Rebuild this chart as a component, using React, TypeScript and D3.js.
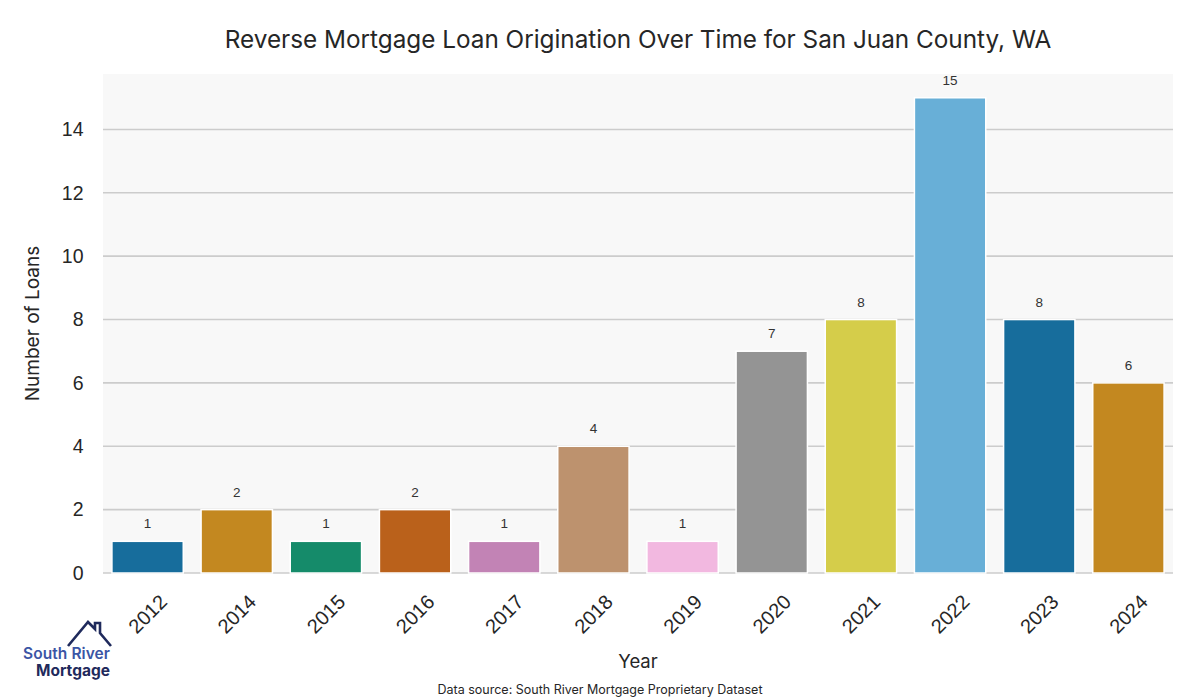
import React from "react";
import * as d3 from "d3";

const years = ["2012", "2014", "2015", "2016", "2017", "2018", "2019", "2020", "2021", "2022", "2023", "2024"];
const loans = [1, 2, 1, 2, 1, 4, 1, 7, 8, 15, 8, 6];
const baseColors = ["#0173B2", "#DE8F05", "#029E73", "#D55E00", "#CC78BC", "#CA9161", "#FBAFE4", "#949494", "#ECE133", "#56B4E9", "#0173B2", "#DE8F05"];
const yTicks = [0, 2, 4, 6, 8, 10, 12, 14];

const W = 1200, H = 700;
const M = { left: 103, right: 1173, top: 74, bottom: 573 };
const uiFont = "Inter, 'Noto Sans', sans-serif";
const tickFont = "'Liberation Sans', Arial, sans-serif";

function desat(c: string) {
  const h = d3.hsl(c);
  h.s *= 0.75;
  return h.formatHex();
}

export default function App() {
  const x = d3.scaleBand<string>().domain(years).range([M.left, M.right]).paddingInner(0.2).paddingOuter(0.1);
  const y = d3.scaleLinear().domain([0, 15.75]).range([M.bottom, M.top]);
  const cx = (M.left + M.right) / 2;
  return (
    <svg width={W} height={H} style={{ position: "absolute", left: 0, top: 0, background: "#fff" }}>
      <rect x={M.left} y={M.top} width={M.right - M.left} height={M.bottom - M.top} fill="#f8f8f8" />
      {yTicks.map((t) => (
        <g key={t}>
          <line x1={M.left} x2={M.right} y1={y(t)} y2={y(t)} stroke="#cccccc" strokeWidth={1.6} />
          <text x={M.left - 19.5} y={y(t)} dy="0.35em" textAnchor="end" fontFamily={tickFont} fontSize={19.5} fill="#262626">{t}</text>
        </g>
      ))}
      {years.map((yr, i) => {
        const bx = x(yr)!;
        const bw = x.bandwidth();
        return (
          <g key={yr}>
            <rect x={bx} y={y(loans[i])} width={bw} height={y(0) - y(loans[i])} fill={desat(baseColors[i])} stroke="#fff" strokeWidth={1.5} />
            <text x={bx + bw / 2} y={y(loans[i]) - 13} textAnchor="middle" fontFamily={tickFont} fontSize={13.5} fill="#333">{loans[i]}</text>
            <text transform={`translate(${bx + bw / 2},${614}) rotate(-45)`} textAnchor="middle" dy="0.35em" fontFamily={tickFont} fontSize={20} fill="#262626">{yr}</text>
          </g>
        );
      })}
      <text x={cx} y={48} textAnchor="middle" fontFamily={uiFont} fontSize={24.3} fill="#262626">Reverse Mortgage Loan Origination Over Time for San Juan County, WA</text>
      <text transform={`translate(39,${(M.top + M.bottom) / 2}) rotate(-90)`} textAnchor="middle" fontFamily={uiFont} fontSize={19} fill="#262626">Number of Loans</text>
      <text x={cx} y={668} textAnchor="middle" fontFamily={uiFont} fontSize={18.5} fill="#262626">Year</text>
      <text x={600} y={694} textAnchor="middle" fontFamily={uiFont} fontSize={12.5} fill="#262626">Data source: South River Mortgage Proprietary Dataset</text>
      <g>
        <path d="M68,646 L88,622 L95,629 L95,623 L100,623 L100,633 L111,646" fill="none" stroke="#1f2a5c" strokeWidth={2.6} strokeLinejoin="miter" />
        <text x={23} y={659} fontFamily={uiFont} fontSize={15.5} fontWeight={600} fill="#3b55a5" textLength={87}>South River</text>
        <text x={36} y={676} fontFamily={uiFont} fontSize={15.5} fontWeight={700} fill="#1f2a5c" textLength={74}>Mortgage</text>
      </g>
    </svg>
  );
}
